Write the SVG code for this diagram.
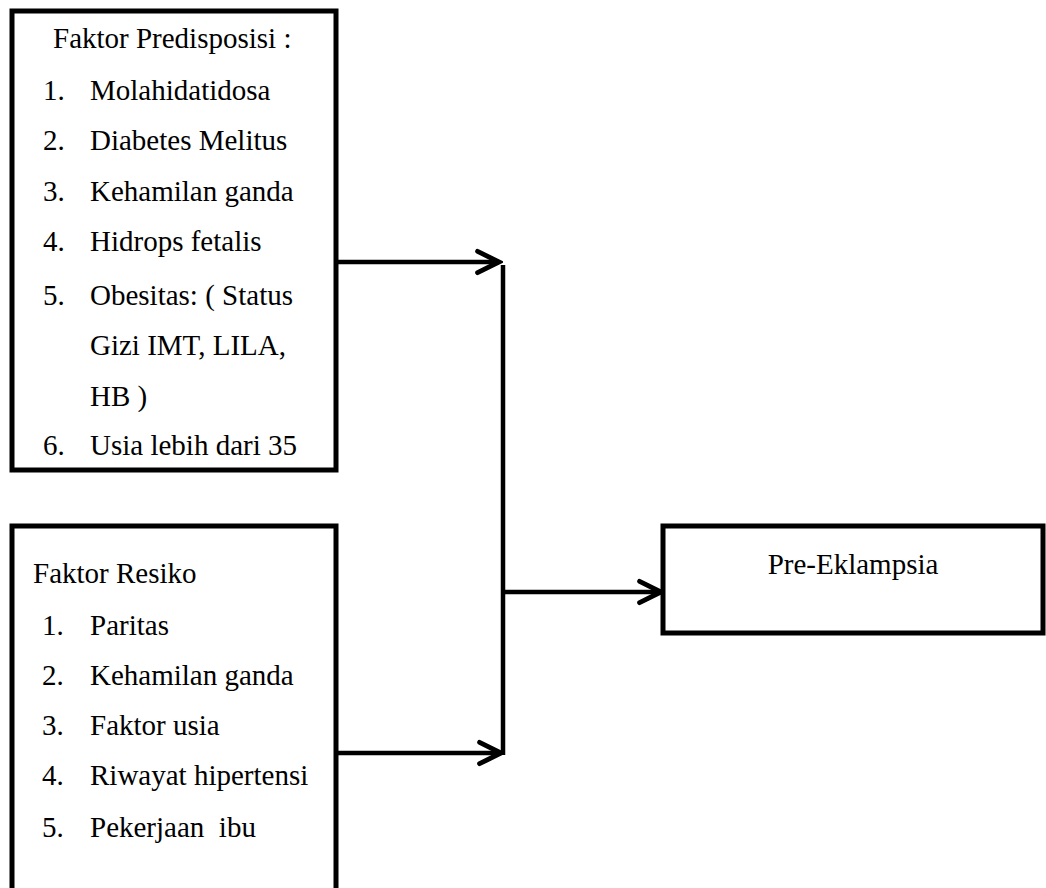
<svg xmlns="http://www.w3.org/2000/svg" width="1046" height="888" viewBox="0 0 1046 888">
<style>
  .box { fill: #ffffff; stroke: #000000; stroke-width: 5; }
  .t { font-family: "Liberation Serif", "Times New Roman", serif; font-size: 29px; fill: #000000; }
  .conn { fill: none; stroke: #000000; stroke-width: 4.5; }
</style>
<defs>
  <marker id="arrow" markerUnits="userSpaceOnUse" markerWidth="30" markerHeight="30" viewBox="-24 -14 28 28" refX="0" refY="0" orient="auto">
    <path d="M-20,-10 L0,0 L-20,10" fill="none" stroke="#000000" stroke-width="4.5" stroke-linecap="round" stroke-linejoin="miter"/>
  </marker>
</defs>
<rect width="1046" height="888" fill="#ffffff"/>

<g id="node-predisposisi">
  <rect class="box" x="12" y="11" width="324" height="459"/>
  <text class="t" x="53" y="48">Faktor Predisposisi :</text>
  <text class="t" x="43" y="100">1.</text><text class="t" x="90" y="100">Molahidatidosa</text>
  <text class="t" x="43" y="150">2.</text><text class="t" x="90" y="150">Diabetes Melitus</text>
  <text class="t" x="43" y="201">3.</text><text class="t" x="90" y="201">Kehamilan ganda</text>
  <text class="t" x="43" y="251">4.</text><text class="t" x="90" y="251">Hidrops fetalis</text>
  <text class="t" x="43" y="305">5.</text><text class="t" x="90" y="305">Obesitas: ( Status</text>
  <text class="t" x="90" y="355">Gizi IMT, LILA,</text>
  <text class="t" x="90" y="406">HB )</text>
  <text class="t" x="43" y="455">6.</text><text class="t" x="90" y="455">Usia lebih dari 35</text>
</g>

<g id="node-resiko">
  <rect class="box" x="12" y="526" width="324" height="380"/>
  <text class="t" x="33" y="583">Faktor Resiko</text>
  <text class="t" x="42" y="635">1.</text><text class="t" x="90" y="635">Paritas</text>
  <text class="t" x="42" y="685">2.</text><text class="t" x="90" y="685">Kehamilan ganda</text>
  <text class="t" x="42" y="735">3.</text><text class="t" x="90" y="735">Faktor usia</text>
  <text class="t" x="42" y="785">4.</text><text class="t" x="90" y="785">Riwayat hipertensi</text>
  <text class="t" x="42" y="837">5.</text><text class="t" x="90" y="837" xml:space="preserve">Pekerjaan  ibu</text>
</g>

<g id="node-preeklampsia">
  <rect class="box" x="663" y="526" width="380" height="107"/>
  <text class="t" x="853" y="574" text-anchor="middle">Pre-Eklampsia</text>
</g>

<g id="connectors">
  <line class="conn" x1="336" y1="262" x2="499" y2="262" marker-end="url(#arrow)"/>
  <line class="conn" x1="503" y1="265" x2="503" y2="755"/>
  <line class="conn" x1="336" y1="753" x2="501" y2="753" marker-end="url(#arrow)"/>
  <line class="conn" x1="503" y1="592" x2="661" y2="592" marker-end="url(#arrow)"/>
</g>
</svg>
